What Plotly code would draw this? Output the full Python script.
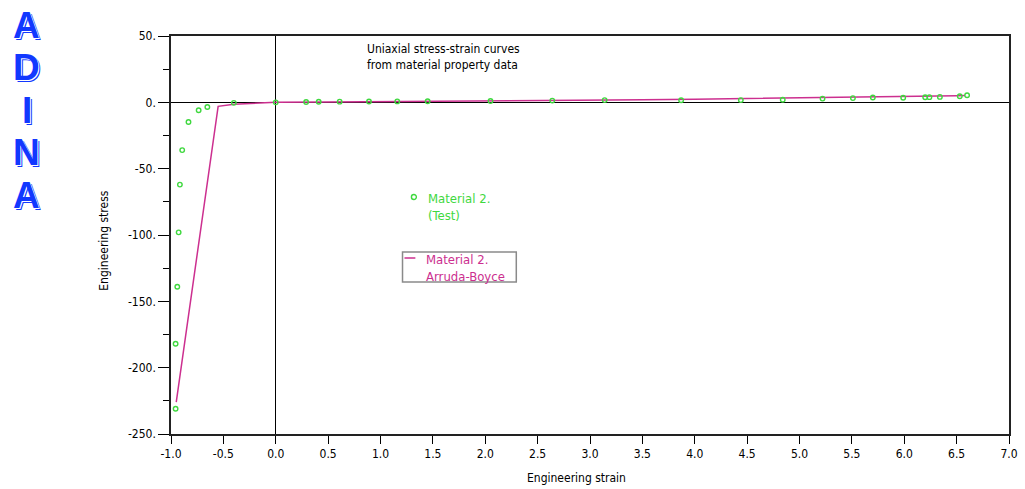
import plotly.graph_objects as go

# ---- data ----
test_strain = [-0.956, -0.956, -0.94, -0.927, -0.915, -0.893, -0.833, -0.736, -0.653, -0.40,
               0.0, 0.29, 0.41, 0.61, 0.89, 1.16, 1.45, 2.05, 2.64, 3.14,
               3.87, 4.44, 4.84, 5.22, 5.51, 5.70, 5.99, 6.20, 6.24, 6.34, 6.53, 6.60]
test_stress = [-231, -182, -139, -98, -62, -36, -14.8, -6.0, -3.5, -0.4,
               0.0, 0.3, 0.4, 0.5, 0.6, 0.7, 0.8, 1.0, 1.3, 1.7,
               1.6, 1.7, 1.9, 2.8, 3.2, 3.6, 3.4, 3.8, 3.9, 4.1, 4.6, 5.3]

ab_strain = [-0.95, -0.55, -0.40, -0.20, 0.0, 0.5, 1.0, 1.5, 2.0, 2.5, 3.0, 3.5,
             4.0, 4.5, 5.0, 5.5, 6.0, 6.5, 6.58]
ab_stress = [-226, -3.0, -1.4, -0.5, 0.0, 0.3, 0.5, 0.7, 0.9, 1.1, 1.4, 1.9,
             2.4, 2.8, 3.2, 3.7, 4.2, 4.9, 5.1]

x_ticks = [-1.0, -0.5, 0.0, 0.5, 1.0, 1.5, 2.0, 2.5, 3.0, 3.5, 4.0, 4.5, 5.0, 5.5, 6.0, 6.5, 7.0]
x_ticklabels = [f"{v:.1f}" for v in x_ticks]
y_ticks = [50, 0, -50, -100, -150, -200, -250]
y_ticklabels = ["50.", "0.", "-50.", "-100.", "-150.", "-200.", "-250."]

title_lines = ["Uniaxial stress-strain curves", "from material property data"]
test_label = ["Material 2.", "(Test)"]
ab_label = ["Material 2.", "Arruda-Boyce"]
logo = "ADINA"

GREEN = "#3fd83f"
MAGENTA = "#cc2f8f"
BLUE = "#1238ff"
FONT = "Liberation Sans Narrow, DejaVu Sans Condensed, Liberation Sans, sans-serif"

# plot area in pixels
L, R, T, B = 171, 1018, 36, 434
W, H = 1025, 489
PW, PH = R - L, B - T


def px(xp):
    return (xp - L) / PW


def py(yp):
    return (B - yp) / PH


fig = go.Figure()
fig.add_trace(go.Scatter(
    x=ab_strain, y=ab_stress, mode="lines",
    line=dict(color=MAGENTA, width=1.5), showlegend=False, hoverinfo="skip"))
fig.add_trace(go.Scatter(
    x=test_strain, y=test_stress, mode="markers",
    marker=dict(symbol="circle-open", size=4.5, color=GREEN, line=dict(width=1.4, color=GREEN)),
    showlegend=False, hoverinfo="skip"))

annotations = []
# top title
annotations.append(dict(xref="paper", yref="paper", x=px(367), y=py(40), xanchor="left", yanchor="top",
                        text="<br>".join(title_lines), showarrow=False, align="left",
                        font=dict(family=FONT, size=12, color="black")))
# legend: test
annotations.append(dict(xref="paper", yref="paper", x=px(429), y=py(189), xanchor="left", yanchor="top",
                        text="<br>".join(test_label), showarrow=False, align="left",
                        font=dict(family=FONT, size=13, color=GREEN)))
# legend: Arruda-Boyce
annotations.append(dict(xref="paper", yref="paper", x=px(427), y=py(250), xanchor="left", yanchor="top",
                        text="<br>".join(ab_label), showarrow=False, align="left",
                        font=dict(family=FONT, size=13, color=MAGENTA)))
# axis titles
annotations.append(dict(xref="paper", yref="paper", x=px(581), y=py(478), xanchor="center", yanchor="middle",
                        text="Engineering strain", showarrow=False,
                        font=dict(family=FONT, size=12, color="black")))
annotations.append(dict(xref="paper", yref="paper", x=px(103), y=py(240), xanchor="center", yanchor="middle",
                        text="Engineering stress", showarrow=False, textangle=-90,
                        font=dict(family=FONT, size=12, color="black")))
# ADINA logo
for i, ch in enumerate(logo):
    cy = 25 + i * 42.5
    annotations.append(dict(xref="paper", yref="paper", x=px(25), y=py(cy), xanchor="center",
                            yanchor="middle", text=f"<b>{ch}</b>", showarrow=False,
                            font=dict(family="Liberation Sans, Arial, sans-serif", size=37, color=BLUE,
                                      shadow="1px 1px 0 #ffffff, 2px 2px 0 " + BLUE)))

shapes = [
    # legend marker for test
    dict(type="circle", xref="paper", yref="paper", x0=px(414), x1=px(419), y0=py(194.5), y1=py(199.5),
         line=dict(color=GREEN, width=1.4)),
    # legend box for Arruda-Boyce
    dict(type="rect", xref="paper", yref="paper", x0=px(405), x1=px(520), y0=py(282), y1=py(252),
         line=dict(color="#8a8a8a", width=1.5)),
    dict(type="line", xref="paper", yref="paper", x0=px(407), x1=px(418), y0=py(258), y1=py(258),
         line=dict(color=MAGENTA, width=1.5)),
]

fig.update_layout(
    width=W, height=H,
    margin=dict(l=L, r=W - R, t=T, b=H - B),
    paper_bgcolor="white", plot_bgcolor="white",
    annotations=annotations, shapes=shapes,
    showlegend=False,
    xaxis=dict(range=[-1.0, 7.0], tickvals=x_ticks, ticktext=x_ticklabels,
               ticks="outside", ticklen=8, tickwidth=1, tickcolor="black",
               showgrid=False, zeroline=True, zerolinecolor="black", zerolinewidth=1,
               showline=True, linecolor="#222", linewidth=1.5, mirror=True,
               tickfont=dict(family=FONT, size=12, color="black")),
    yaxis=dict(range=[-250, 50], tickvals=y_ticks, ticktext=y_ticklabels,
               ticks="outside", ticklen=11, tickwidth=1, tickcolor="black",
               minor=dict(tickvals=[25, -25, -75, -125, -175, -225], ticks="outside", ticklen=6,
                          tickcolor="black", tickwidth=1, showgrid=False),
               showgrid=False, zeroline=True, zerolinecolor="black", zerolinewidth=1,
               showline=True, linecolor="#222", linewidth=1.5, mirror=True,
               tickfont=dict(family=FONT, size=12, color="black")),
)

fig.write_html("out.html", config={"displayModeBar": False},
               post_script="document.body.style.margin='0';document.body.style.overflow='hidden';")
